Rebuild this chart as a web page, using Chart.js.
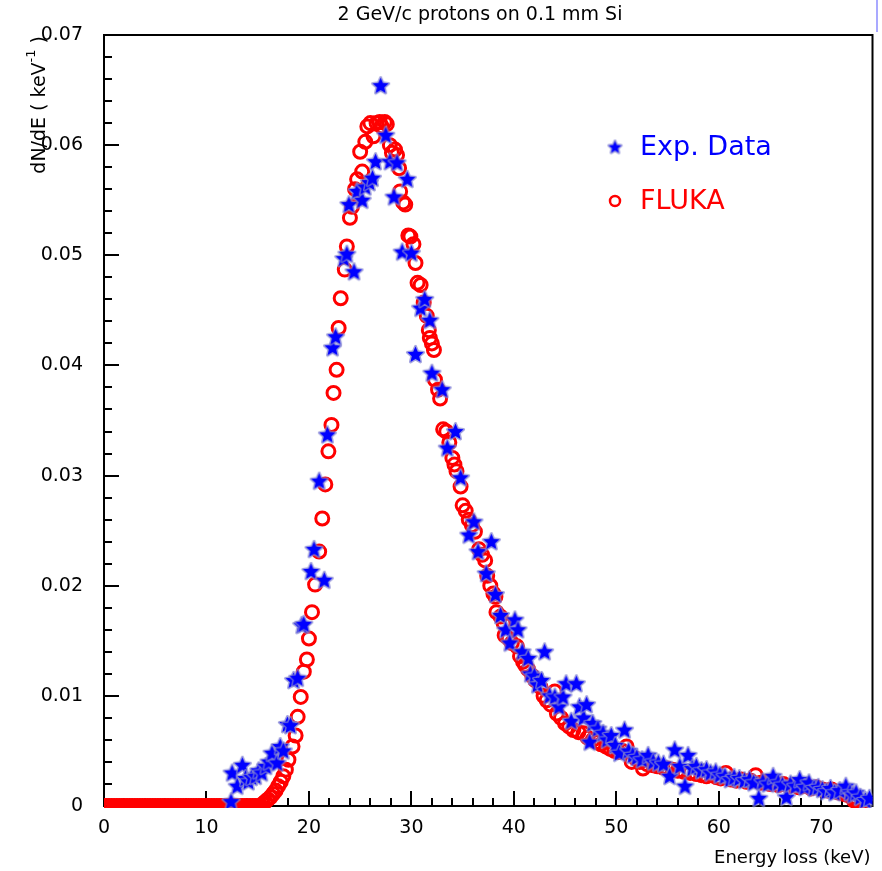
<!DOCTYPE html>
<html>
<head>
<meta charset="utf-8">
<script src="https://cdn.jsdelivr.net/npm/chart.js@4/dist/chart.umd.min.js"></script>
<style>
  html, body { margin: 0; padding: 0; background: #fff; }
  #wrap { position: relative; width: 882px; height: 871px; }
</style>
</head>
<body>
<div id="wrap"><canvas id="chart"></canvas></div>
<script>
// Energy loss (keV), dN/dE (keV^-1)
const expPoints = [
  [12.4, 0.0004], [12.5, 0.0030], [13.0, 0.0018], [13.5, 0.0037], [13.8, 0.0025],
  [14.1, 0.0022], [14.4, 0.0026], [14.8, 0.0027], [15.1, 0.0032], [15.4, 0.0030],
  [15.8, 0.0036], [16.1, 0.0040], [16.4, 0.0048], [16.9, 0.0039], [17.2, 0.0054],
  [17.5, 0.0050], [17.9, 0.0074], [18.2, 0.0073], [18.5, 0.0114], [18.9, 0.0116],
  [19.3, 0.0164], [19.5, 0.0165], [20.2, 0.0213], [20.5, 0.0233], [21.0, 0.0295],
  [21.5, 0.0205], [21.8, 0.0337], [22.3, 0.0416], [22.6, 0.0426], [23.4, 0.0497],
  [23.7, 0.0501], [23.9, 0.0546], [24.4, 0.0485], [24.7, 0.0558], [25.2, 0.0550],
  [25.5, 0.0562], [25.9, 0.0566], [26.2, 0.0570], [26.5, 0.0585], [27.0, 0.0654],
  [27.5, 0.0609], [27.9, 0.0585], [28.3, 0.0553], [28.6, 0.0584], [29.1, 0.0503],
  [29.6, 0.0569], [30.0, 0.0502], [30.4, 0.0410], [30.9, 0.0452], [31.3, 0.0460],
  [31.8, 0.0441], [32.0, 0.0393], [33.0, 0.0378], [33.5, 0.0325], [34.3, 0.0340],
  [34.8, 0.0298], [35.6, 0.0246], [36.1, 0.0258], [36.5, 0.0231], [37.3, 0.0211],
  [37.8, 0.0240], [38.2, 0.0192], [38.7, 0.0173], [39.2, 0.0160], [39.6, 0.0148],
  [40.1, 0.0169], [40.4, 0.0160], [40.8, 0.0140], [41.4, 0.0134], [41.6, 0.0120],
  [42.0, 0.0118], [42.3, 0.0110], [42.7, 0.0114], [43.0, 0.0140], [43.5, 0.0100],
  [44.0, 0.0099], [44.4, 0.0090], [44.8, 0.0099], [45.1, 0.0111], [45.6, 0.0077],
  [46.1, 0.0111], [46.4, 0.0090], [46.8, 0.0080], [47.1, 0.0092], [47.4, 0.0058],
  [47.7, 0.0075], [48.2, 0.0070], [48.7, 0.0066], [49.1, 0.0060], [49.5, 0.0064],
  [49.9, 0.0055], [50.3, 0.0048], [50.8, 0.0069], [51.2, 0.0050], [51.6, 0.0046],
  [52.0, 0.0044], [52.5, 0.0042], [53.1, 0.0046], [53.6, 0.0040], [54.1, 0.0039],
  [54.6, 0.0038], [55.2, 0.0027], [55.7, 0.0051], [56.2, 0.0036], [56.7, 0.0018],
  [57.0, 0.0046], [57.4, 0.0034], [57.8, 0.0036], [58.3, 0.0032], [58.8, 0.0033],
  [59.2, 0.0030], [59.7, 0.0031], [60.1, 0.0028], [60.6, 0.0027], [61.1, 0.0024],
  [61.5, 0.0026], [62.0, 0.0025], [62.5, 0.0023], [63.0, 0.0024], [63.4, 0.0021],
  [63.9, 0.0007], [64.3, 0.0022], [64.8, 0.0020], [65.3, 0.0027], [65.8, 0.0021],
  [66.2, 0.0019], [66.6, 0.0008], [67.0, 0.0020], [67.5, 0.0018], [67.9, 0.0024],
  [68.4, 0.0017], [68.8, 0.0021], [69.3, 0.0016], [69.7, 0.0017], [70.1, 0.0015],
  [70.5, 0.0013], [70.9, 0.0016], [71.3, 0.0012], [71.8, 0.0014], [72.4, 0.0018],
  [72.8, 0.0012], [73.1, 0.0010], [73.4, 0.0012], [73.8, 0.0008], [74.3, 0.0005],
  [74.7, 0.0007]
];

const flukaPoints = [
  [0, 0], [0.25, 0], [0.5, 0], [0.75, 0], [1, 0], [1.25, 0], [1.5, 0], [1.75, 0],
  [2, 0], [2.25, 0], [2.5, 0], [2.75, 0], [3, 0], [3.25, 0], [3.5, 0], [3.75, 0],
  [4, 0], [4.25, 0], [4.5, 0], [4.75, 0], [5, 0], [5.25, 0], [5.5, 0], [5.75, 0],
  [6, 0], [6.25, 0], [6.5, 0], [6.75, 0], [7, 0], [7.25, 0], [7.5, 0], [7.75, 0],
  [8, 0], [8.25, 0], [8.5, 0], [8.75, 0], [9, 0], [9.25, 0], [9.5, 0], [9.75, 0],
  [10, 0], [10.25, 0], [10.5, 0], [10.75, 0], [11, 0], [11.25, 0], [11.5, 0], [11.75, 0],
  [12, 0], [12.25, 0], [12.5, 0], [12.75, 0], [13, 0], [13.25, 0], [13.5, 0], [13.75, 0],
  [14, 0], [14.25, 0], [14.5, 0], [14.75, 0], [15, 0], [15.25, 0],
  [15.5, 0.0002], [15.75, 0.0004], [16.0, 0.0006], [16.25, 0.0008], [16.5, 0.0011],
  [16.75, 0.0014], [17.0, 0.0018], [17.25, 0.0022], [17.5, 0.0027], [17.75, 0.0033],
  [18.0, 0.0042], [18.4, 0.0054], [18.7, 0.0064], [18.9, 0.0081], [19.2, 0.0099],
  [19.5, 0.0122], [19.8, 0.0133], [20.0, 0.0152], [20.3, 0.0176], [20.6, 0.0201],
  [21.0, 0.0231], [21.3, 0.0261], [21.6, 0.0292], [21.9, 0.0322], [22.2, 0.0346],
  [22.4, 0.0375], [22.7, 0.0396], [22.9, 0.0434], [23.1, 0.0461], [23.5, 0.0487],
  [23.7, 0.0508], [24.0, 0.0534], [24.2, 0.0544], [24.5, 0.0560], [24.7, 0.0569],
  [25.0, 0.0594], [25.2, 0.0576], [25.5, 0.0603], [25.7, 0.0617], [26.0, 0.0620],
  [26.3, 0.0608], [26.6, 0.0620], [26.9, 0.0621], [27.1, 0.0617], [27.4, 0.0621],
  [27.6, 0.0619], [27.9, 0.0600], [28.1, 0.0593], [28.4, 0.0596], [28.6, 0.0591],
  [28.8, 0.0579], [28.9, 0.0558], [29.2, 0.0548], [29.4, 0.0546], [29.7, 0.0518],
  [29.9, 0.0517], [30.2, 0.0510], [30.4, 0.0493], [30.6, 0.0475], [30.9, 0.0473],
  [31.2, 0.0457], [31.5, 0.0445], [31.7, 0.0432], [31.8, 0.0425], [32.0, 0.0420],
  [32.2, 0.0414], [32.3, 0.0387], [32.6, 0.0378], [32.8, 0.0370], [33.1, 0.0342],
  [33.4, 0.0340], [33.7, 0.0330], [34.0, 0.0316], [34.2, 0.0310], [34.4, 0.0304],
  [34.8, 0.0290], [35.0, 0.0273], [35.3, 0.0268], [35.6, 0.0260], [35.9, 0.0255],
  [36.2, 0.0249], [36.6, 0.0233], [36.9, 0.0228], [37.2, 0.0223], [37.4, 0.0209],
  [37.7, 0.0200], [38.0, 0.0193], [38.2, 0.0190], [38.3, 0.0176], [38.7, 0.0172],
  [39.0, 0.0166], [39.1, 0.0155], [39.5, 0.0152], [39.8, 0.0148], [40.3, 0.0145],
  [40.6, 0.0136], [40.9, 0.0131], [41.1, 0.0128], [41.4, 0.0124], [41.8, 0.0118],
  [42.1, 0.0114], [42.6, 0.0108], [42.9, 0.0100], [43.2, 0.0096], [43.6, 0.0092],
  [44.0, 0.0104], [44.2, 0.0084], [44.6, 0.0080], [45.0, 0.0075], [45.4, 0.0072],
  [45.8, 0.0069], [46.3, 0.0067], [46.8, 0.0066], [47.2, 0.0062], [47.7, 0.0060],
  [48.1, 0.0058], [48.5, 0.0056], [49.0, 0.0054], [49.4, 0.0052], [49.8, 0.0050],
  [50.2, 0.0049], [50.6, 0.0050], [51.0, 0.0054], [51.5, 0.0040], [51.9, 0.0043],
  [52.3, 0.0040], [52.6, 0.0034], [53.0, 0.0038], [53.6, 0.0037], [54.0, 0.0036],
  [54.5, 0.0035], [55.0, 0.0034], [55.5, 0.0033], [56.0, 0.0032], [56.6, 0.0031],
  [57.2, 0.0030], [57.8, 0.0029], [58.3, 0.0028], [58.8, 0.0027], [59.3, 0.0028],
  [59.8, 0.0026], [60.2, 0.0025], [60.7, 0.0030], [61.2, 0.0024], [61.7, 0.0023],
  [62.2, 0.0024], [62.7, 0.0022], [63.1, 0.0023], [63.6, 0.0028], [64.1, 0.0021],
  [64.6, 0.0022], [65.0, 0.0020], [65.3, 0.0022], [65.8, 0.0019], [66.3, 0.0020],
  [66.8, 0.0018], [67.3, 0.0019], [67.8, 0.0017], [68.2, 0.0018], [68.5, 0.0019],
  [69.0, 0.0016], [69.5, 0.0017], [70.1, 0.0015], [70.6, 0.0014], [71.0, 0.0015],
  [71.4, 0.0013], [71.8, 0.0012], [72.2, 0.0011], [72.6, 0.0010], [73.0, 0.0008],
  [73.2, 0.0005], [73.6, 0.0004], [74.0, 0.0003]
];

const yTicks = [0, 0.01, 0.02, 0.03, 0.04, 0.05, 0.06, 0.07];
const yTickLabels = ['0', '0.01', '0.02', '0.03', '0.04', '0.05', '0.06', '0.07'];
const xTicks = [0, 10, 20, 30, 40, 50, 60, 70];
const xTickLabels = ['0', '10', '20', '30', '40', '50', '60', '70'];

const titleText = '2 GeV/c protons on 0.1 mm Si';
const seriesNames = ['Exp. Data', 'FLUKA'];

const BLUE = '#0000ff';
const RED = '#ff0000';
const FONT = '"DejaVu Sans", sans-serif';

function makeStar(outer, inner) {
  const size = Math.ceil(outer * 2 + 4);
  const c = document.createElement('canvas');
  c.width = size; c.height = size;
  const g = c.getContext('2d');
  g.beginPath();
  for (let i = 0; i < 10; i++) {
    const r = i % 2 === 0 ? outer : inner;
    const a = -Math.PI / 2 + i * Math.PI / 5;
    const px = size / 2 + r * Math.cos(a);
    const py = size / 2 + r * Math.sin(a) + 0.5;
    if (i === 0) g.moveTo(px, py); else g.lineTo(px, py);
  }
  g.closePath();
  g.lineJoin = 'round';
  g.strokeStyle = 'rgba(130,130,210,0.75)';
  g.lineWidth = 3;
  g.stroke();
  g.fillStyle = BLUE;
  g.fill();
  return c;
}

const starMarker = makeStar(8.5, 3.9);
const starLegend = makeStar(6.5, 3);

const decorations = {
  id: 'decorations',
  beforeDatasetsDraw(chart) {
    const { ctx, chartArea: a, scales: { x, y } } = chart;
    ctx.save();
    ctx.strokeStyle = '#000';
    ctx.lineWidth = 2;
    ctx.beginPath();
    for (let i = 0; i <= 35; i++) {
      const py = Math.round(y.getPixelForValue(i * 0.002));
      const len = i % 5 === 0 ? 15 : 8;
      ctx.moveTo(a.left, py);
      ctx.lineTo(a.left + len, py);
    }
    for (let i = 0; i <= 37; i++) {
      const px = Math.round(x.getPixelForValue(i * 2));
      const len = i % 5 === 0 ? 15 : 8;
      ctx.moveTo(px, a.bottom);
      ctx.lineTo(px, a.bottom - len);
    }
    ctx.stroke();
    ctx.strokeRect(a.left, a.top, a.right - a.left, a.bottom - a.top);
    ctx.restore();
  },
  afterDraw(chart) {
    const { ctx, chartArea: a } = chart;
    ctx.save();
    ctx.fillStyle = '#000';

    // title
    ctx.font = '19px ' + FONT;
    ctx.textAlign = 'center';
    ctx.textBaseline = 'middle';
    ctx.fillText(titleText, 480, 15);

    // x axis title
    ctx.font = '18px ' + FONT;
    ctx.textAlign = 'right';
    ctx.fillText('Energy loss (keV)', a.right - 2, 858);

    // y axis title, rotated, ending at the top of the frame
    ctx.save();
    ctx.translate(40, a.top + 1);
    ctx.rotate(-Math.PI / 2);
    ctx.textAlign = 'left';
    const big = '19px ' + FONT, small = '13px ' + FONT;
    const parts = [['dN/dE ( keV', big, 0], ['-1', small, -8], [' )', big, 0]];
    let total = 0;
    parts.forEach(p => { ctx.font = p[1]; total += ctx.measureText(p[0]).width; });
    let pos = -total;
    parts.forEach(p => {
      ctx.font = p[1];
      ctx.fillText(p[0], pos, p[2]);
      pos += ctx.measureText(p[0]).width;
    });
    ctx.restore();

    // legend
    ctx.font = '27px ' + FONT;
    ctx.textAlign = 'left';
    ctx.drawImage(starLegend, 615 - starLegend.width / 2, 147 - starLegend.height / 2);
    ctx.fillStyle = BLUE;
    ctx.fillText(seriesNames[0], 640, 148);
    ctx.strokeStyle = RED;
    ctx.lineWidth = 2.5;
    ctx.beginPath();
    ctx.arc(615, 201, 5, 0, Math.PI * 2);
    ctx.stroke();
    ctx.fillStyle = RED;
    ctx.fillText(seriesNames[1], 640, 202);

    // thin blue line at the top right corner
    ctx.strokeStyle = '#8c8cff';
    ctx.lineWidth = 1.5;
    ctx.beginPath();
    ctx.moveTo(877, 0);
    ctx.lineTo(877, 32);
    ctx.stroke();
    ctx.restore();
  }
};

new Chart(document.getElementById('chart'), {
  type: 'scatter',
  data: {
    datasets: [
      {
        label: seriesNames[0],
        data: expPoints.map(p => ({ x: p[0], y: p[1] })),
        pointStyle: starMarker,
        pointRadius: 8,
        clip: { left: 0, top: 0, right: 0, bottom: 2 },
      },
      {
        label: seriesNames[1],
        data: flukaPoints.map(p => ({ x: p[0], y: p[1] })),
        pointStyle: 'circle',
        pointRadius: 6.5,
        borderWidth: 3,
        borderColor: RED,
        backgroundColor: 'rgba(0,0,0,0)',
        clip: { left: 0, top: 0, right: 0, bottom: 2 },
      },
    ],
  },
  options: {
    responsive: true,
    maintainAspectRatio: false,
    animation: false,
    events: [],
    layout: { padding: { top: 35, right: 9, left: 0, bottom: 0 } },
    plugins: {
      legend: { display: false },
      tooltip: { enabled: false },
    },
    scales: {
      x: {
        type: 'linear',
        min: 0,
        max: 75,
        grid: { display: false, drawTicks: false },
        border: { display: false },
        afterBuildTicks: s => { s.ticks = xTicks.map(v => ({ value: v })); },
        afterFit: s => { s.height = 65; },
        ticks: {
          autoSkip: false,
          maxRotation: 0,
          padding: 11,
          color: '#000',
          font: { family: FONT, size: 19 },
          callback: v => xTickLabels[xTicks.indexOf(v)] ?? '',
        },
      },
      y: {
        type: 'linear',
        min: 0,
        max: 0.07,
        grid: { display: false, drawTicks: false },
        border: { display: false },
        afterBuildTicks: s => { s.ticks = yTicks.map(v => ({ value: v })); },
        afterFit: s => { s.width = 104; },
        ticks: {
          padding: 21,
          color: '#000',
          font: { family: FONT, size: 19 },
          callback: (v, i) => yTickLabels[i] ?? '',
        },
      },
    },
  },
  plugins: [decorations],
});
</script>
</body>
</html>
